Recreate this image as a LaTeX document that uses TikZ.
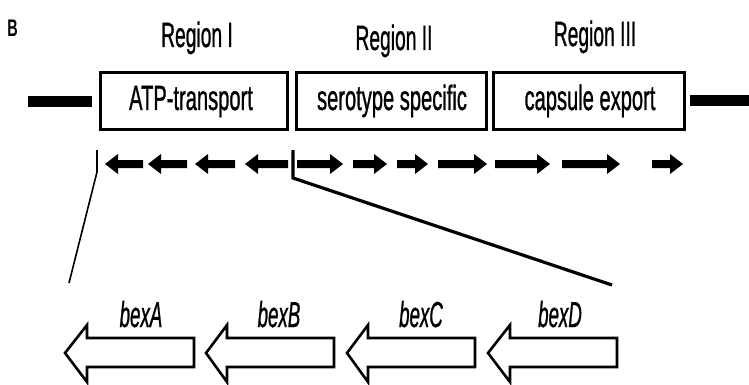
\documentclass[tikz,border=0pt]{standalone}
\usepackage{fontspec}
\setmainfont{Liberation Sans}
\newfontfamily\heavy[FakeBold=1.2]{Liberation Sans}
\newfontfamily\heavyit[FakeBold=1.2]{Liberation Sans Italic}
\usepackage{graphicx}
\tikzset{
  lbl/.style={inner sep=0pt, anchor=base, font=\fontsize{35}{40}\heavy},
  genelbl/.style={inner sep=0pt, anchor=base, font=\fontsize{36}{40}\heavyit},
  regbox/.style={draw, line width=2.8pt, minimum height=57pt, inner sep=0pt},
  bar/.style={line width=11pt},
  gene/.style={line width=2.6pt, line join=miter},
  bracket/.style={line width=1.6pt}
}
\newcommand{\arrR}[2]{\fill (#1,160) -- (#2-13,160) -- (#2-13,154) -- (#2,164) -- (#2-13,174) -- (#2-13,168) -- (#1,168) -- cycle;}
\newcommand{\arrL}[2]{\fill (#2,160) -- (#1+13,160) -- (#1+13,154) -- (#1,164) -- (#1+13,174) -- (#1+13,168) -- (#2,168) -- cycle;}
\newcommand{\bigL}[3]{\draw[gene] (#1,353) -- (#2,325) -- (#2,338) -- (#3,338) -- (#3,367) -- (#2,367) -- (#2,382) -- cycle;}
\begin{document}
\begin{tikzpicture}[x=1pt,y=-1pt]
\useasboundingbox (0,0) rectangle (749,385);
% panel letter
\node[inner sep=0pt, anchor=base, font=\fontsize{24}{26}\selectfont\bfseries] (pl) at (12.5,37) {\scalebox{0.6}[1]{B}};
% region labels
\node[lbl] (r1) at (197,47) {\scalebox{0.55}[1]{Region I}};
\node[lbl] (r2) at (394,50) {\scalebox{0.55}[1]{Region II}};
\node[lbl] (r3) at (595,46) {\scalebox{0.55}[1]{Region III}};
% boxes
\node[regbox, minimum width=187pt] (b1) at (194,101) {};
\node[regbox, minimum width=190pt] (b2) at (391.5,101) {};
\node[regbox, minimum width=191pt] (b3) at (589,101) {};
\node[lbl] (t1) at (191,110) {\scalebox{0.575}[1]{ATP-transport}};
\node[lbl] (t2) at (392,110) {\scalebox{0.575}[1]{serotype specific}};
\node[lbl] (t3) at (590,110) {\scalebox{0.575}[1]{capsule export}};
% flanking bars
\coordinate (lb1) at (28,102);
\coordinate (lb2) at (92,102);
\coordinate (rb1) at (690,101);
\coordinate (rb2) at (749,101);
\draw[bar] (lb1) -- (lb2);
\draw[bar] (rb1) -- (rb2);
% small gene arrows
\arrL{105}{143}
\arrL{148}{187}
\arrL{195}{235}
\arrL{245}{288}
\arrR{297}{343}
\arrR{353}{387}
\arrR{397}{428}
\arrR{438}{487}
\arrR{495}{550}
\arrR{562}{620}
\arrR{652}{683}
% zoom lines
\coordinate (za) at (97,150);
\coordinate (zb) at (97,172);
\coordinate (zc) at (69,283);
\coordinate (zd) at (293,150);
\coordinate (ze) at (293,178);
\coordinate (zf) at (612,285);
\draw[bracket] (za) -- (zb) -- (zc);
\draw[line width=3.2pt] (zd) -- (ze) -- (zf);
% big genes
\bigL{65}{87}{194}
\bigL{206}{227}{334}
\bigL{347}{368}{475}
\bigL{488}{510}{617}
\node[genelbl] (ga) at (141,327) {\scalebox{0.52}[1]{bexA}};
\node[genelbl] (gb) at (279,327) {\scalebox{0.52}[1]{bexB}};
\node[genelbl] (gc) at (421,327) {\scalebox{0.52}[1]{bexC}};
\node[genelbl] (gd) at (560,327) {\scalebox{0.52}[1]{bexD}};
\end{tikzpicture}
\end{document}
